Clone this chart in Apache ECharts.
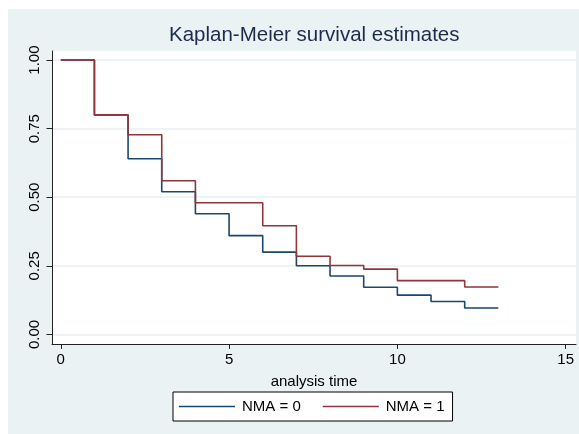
<!DOCTYPE html>
<html>
<head>
<meta charset="utf-8">
<script src="https://cdn.jsdelivr.net/npm/echarts@6/dist/echarts.min.js"></script>
<style>
  html, body { margin: 0; padding: 0; background: #ffffff; }
  #chart { position: absolute; left: 8px; top: 9px; width: 571px; height: 425px; }
</style>
</head>
<body>
<div id="chart"></div>
<script>
// ---- data ----
const times = [0, 1, 2, 3, 4, 5, 6, 7, 8, 9, 10, 11, 12, 13];
const nma0 = [1.00, 0.80, 0.64, 0.52, 0.44, 0.36, 0.30, 0.25, 0.213, 0.172, 0.143, 0.12, 0.096, 0.096];
const nma1 = [1.00, 0.80, 0.728, 0.56, 0.48, 0.48, 0.396, 0.285, 0.251, 0.238, 0.196, 0.196, 0.173, 0.173];
const seriesNames = ['NMA = 0', 'NMA = 1'];
const xTicks = [0, 5, 10, 15];
const yTicks = [0, 0.25, 0.5, 0.75, 1];
const titleText = 'Kaplan-Meier survival estimates';
const xAxisTitle = 'analysis time';

const FONT = '"Liberation Sans", Arial, Helvetica, sans-serif';
const chart = echarts.init(document.getElementById('chart'));

const toPairs = (xs, ys) => xs.map((x, i) => [x, ys[i]]);

chart.setOption({
  animation: false,
  backgroundColor: '#eaf2f3',
  textStyle: { fontFamily: FONT },
  title: {
    text: titleText,
    left: 161,
    top: 16,
    padding: 0,
    textStyle: { fontFamily: FONT, fontSize: 20.5, fontWeight: 'normal', color: '#1c2b4d' }
  },
  legend: {
    data: seriesNames,
    left: 165,
    top: 383,
    padding: [7, 8, 7, 6],
    icon: 'rect',
    itemWidth: 56,
    itemHeight: 1.6,
    itemGap: 22,
    backgroundColor: '#ffffff',
    borderColor: '#000000',
    borderWidth: 1,
    borderRadius: 0,
    selectedMode: false,
    textStyle: { fontFamily: FONT, fontSize: 15, color: '#000000', padding: [0, 0, 0, 2] }
  },
  grid: {
    left: 44, right: 3, top: 42, bottom: 90,
    show: true, backgroundColor: '#ffffff', borderWidth: 0
  },
  xAxis: {
    type: 'value',
    min: -0.26, max: 15.306,
    name: xAxisTitle,
    nameLocation: 'middle',
    nameGap: 30,
    nameTextStyle: { fontFamily: FONT, fontSize: 15, color: '#000000' },
    axisLine: { show: true, onZero: false, lineStyle: { color: '#222222', width: 1 } },
    axisTick: { show: true, length: 5, customValues: xTicks, lineStyle: { color: '#222222', width: 1 } },
    axisLabel: { customValues: xTicks, margin: 8, fontFamily: FONT, fontSize: 15, color: '#000000' },
    splitLine: { show: false }
  },
  yAxis: {
    type: 'value',
    min: -0.035, max: 1.033,
    axisLine: { show: true, onZero: false, lineStyle: { color: '#222222', width: 1 } },
    axisTick: { show: true, length: 5.5, customValues: yTicks, lineStyle: { color: '#222222', width: 1 } },
    axisLabel: {
      customValues: yTicks, rotate: 90, margin: 10,
      fontFamily: FONT, fontSize: 15, color: '#000000',
      formatter: v => Number(v).toFixed(2)
    },
    splitLine: { show: true, lineStyle: { color: '#e8eff2', width: 1.5 } }
  },
  series: [
    {
      name: seriesNames[0], type: 'line', step: 'end',
      data: toPairs(times, nma0),
      showSymbol: false, symbol: 'none',
      lineStyle: { color: '#1a476f', width: 1.6 },
      itemStyle: { color: '#1a476f' },
      z: 3
    },
    {
      name: seriesNames[1], type: 'line', step: 'end',
      data: toPairs(times, nma1),
      showSymbol: false, symbol: 'none',
      lineStyle: { color: '#90353b', width: 1.6 },
      itemStyle: { color: '#90353b' },
      z: 4
    }
  ]
});
</script>
</body>
</html>
